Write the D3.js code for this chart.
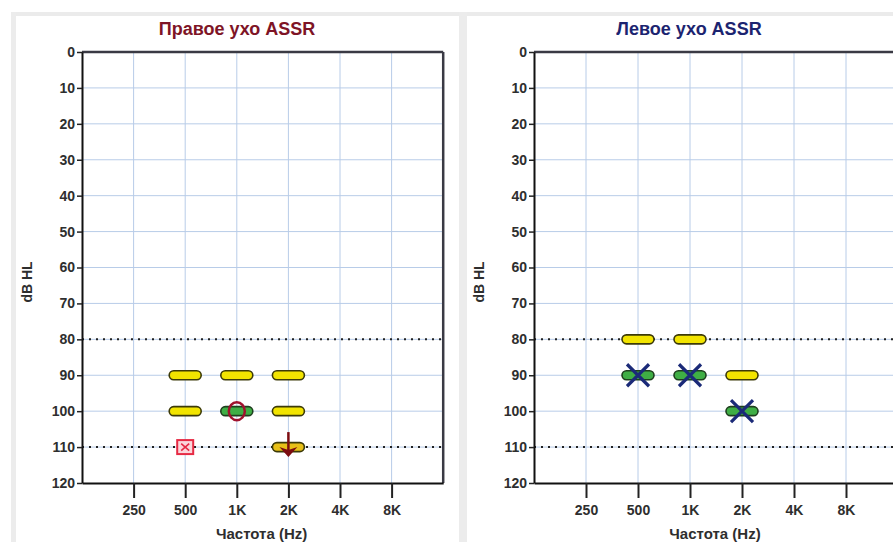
<!DOCTYPE html>
<html>
<head>
<meta charset="utf-8">
<script src="https://cdn.jsdelivr.net/npm/d3@7"></script>
<style>
  html, body { margin: 0; padding: 0; background: #ffffff; }
  svg { display: block; font-family: Arial, "Liberation Sans", sans-serif; }
</style>
</head>
<body>
<svg id="chart" width="893" height="542"></svg>
<script>
// ---------- data ----------
const freqLabels = ["250", "500", "1K", "2K", "4K", "8K"];
const dbTicks = [0, 10, 20, 30, 40, 50, 60, 70, 80, 90, 100, 110, 120];
const referenceLevels = [80, 110];

const panelTitles = ["Правое ухо ASSR", "Левое ухо ASSR"];
const xAxisTitle = "Частота (Hz)";
const yAxisTitle = "dB HL";

// Right ear (left panel)
const rightYellow = [
  { f: "500", db: 90 }, { f: "1K", db: 90 }, { f: "2K", db: 90 },
  { f: "500", db: 100 }, { f: "2K", db: 100 }
];
const rightYellowNoResp = [{ f: "2K", db: 110 }];
const rightGreen = [{ f: "1K", db: 100 }];
const rightCircle = [{ f: "1K", db: 100 }];
const rightSquare = [{ f: "500", db: 110 }];
const rightArrow = [{ f: "2K", db: 110 }];

// Left ear (right panel)
const leftYellow = [{ f: "500", db: 80 }, { f: "1K", db: 80 }, { f: "2K", db: 90 }];
const leftGreen = [{ f: "500", db: 90 }, { f: "1K", db: 90 }, { f: "2K", db: 100 }];
const leftCross = [{ f: "500", db: 90 }, { f: "1K", db: 90 }, { f: "2K", db: 100 }];

// ---------- drawing ----------
const svg = d3.select("#chart");

// frame strips
const frame = svg.append("g");
frame.append("rect").attr("x", 11).attr("y", 12).attr("width", 882).attr("height", 4).attr("fill", "#ebebeb");
frame.append("rect").attr("x", 11).attr("y", 12).attr("width", 5).attr("height", 530).attr("fill", "#ececec");
frame.append("rect").attr("x", 459).attr("y", 12).attr("width", 8).attr("height", 530).attr("fill", "#ececec");

const panels = [
  { offset: 0, titleColor: "#7e1426", step: 51.6,
    yellow: rightYellow, yellowNR: rightYellowNoResp, green: rightGreen,
    circle: rightCircle, square: rightSquare, arrow: rightArrow, cross: [] },
  { offset: 452, titleColor: "#1c2470", step: 52,
    yellow: leftYellow, yellowNR: [], green: leftGreen,
    circle: [], square: [], arrow: [], cross: leftCross }
];

panels.forEach((p, i) => {
  const left = 82 + p.offset, top = 52, bottom = 483;
  const plotW = p.step * 7;
  const g = svg.append("g");

  const x = d3.scalePoint().domain(["", ...freqLabels, " "]).range([left, left + plotW]);
  const y = d3.scaleLinear().domain([0, 120]).range([top, bottom]);

  // title
  g.append("text")
    .attr("x", 237 + p.offset).attr("y", 35)
    .attr("text-anchor", "middle")
    .attr("font-size", 18).attr("font-weight", "bold")
    .attr("fill", p.titleColor)
    .text(panelTitles[i]);

  // grid
  g.append("g").selectAll("line").data(dbTicks.slice(1, -1)).join("line")
    .attr("x1", left).attr("x2", left + plotW)
    .attr("y1", d => y(d)).attr("y2", d => y(d))
    .attr("stroke", "#b8cce8").attr("stroke-width", 1);
  g.append("g").selectAll("line").data(freqLabels).join("line")
    .attr("x1", d => x(d)).attr("x2", d => x(d))
    .attr("y1", top).attr("y2", bottom)
    .attr("stroke", "#b8cce8").attr("stroke-width", 1);

  // reference dotted lines
  g.append("g").selectAll("line").data(referenceLevels).join("line")
    .attr("x1", left).attr("x2", left + plotW)
    .attr("y1", d => y(d)).attr("y2", d => y(d))
    .attr("stroke", "#222").attr("stroke-width", 2)
    .attr("stroke-dasharray", "2,5");

  // frame (top/right)
  g.append("line").attr("x1", left).attr("x2", left + plotW).attr("y1", top).attr("y2", top)
    .attr("stroke", "#3a3a44").attr("stroke-width", 2.5);
  g.append("line").attr("x1", left + plotW).attr("x2", left + plotW).attr("y1", top).attr("y2", bottom)
    .attr("stroke", "#3a3a44").attr("stroke-width", 2.5);

  // y axis
  const yAx = g.append("g").attr("transform", `translate(${left},0)`)
    .call(d3.axisLeft(y).tickValues(dbTicks).tickSize(5).tickPadding(2).tickSizeOuter(0));
  yAx.select(".domain").attr("stroke", "#111").attr("stroke-width", 2);
  yAx.selectAll(".tick line").attr("stroke", "#222").attr("stroke-width", 1.5);
  yAx.selectAll("text").attr("font-size", 14).attr("font-weight", "bold")
    .attr("fill", "#2e2e2e").attr("font-family", "Arial, 'Liberation Sans', sans-serif");

  // x axis
  const xAx = g.append("g").attr("transform", `translate(0,${bottom})`)
    .call(d3.axisBottom(x).tickValues(freqLabels).tickSize(15).tickPadding(7).tickSizeOuter(0));
  xAx.select(".domain").attr("stroke", "#111").attr("stroke-width", 2);
  xAx.selectAll(".tick line").attr("stroke", "#222").attr("stroke-width", 2);
  xAx.selectAll("text").attr("font-size", 14).attr("font-weight", "bold")
    .attr("fill", "#2e2e2e").attr("font-family", "Arial, 'Liberation Sans', sans-serif");

  // axis titles
  g.append("text").attr("x", left + 3.5 * p.step - 1).attr("y", 539)
    .attr("text-anchor", "middle").attr("font-size", 15).attr("fill", "#2e2e2e")
    .attr("font-weight", "bold")
    .text(xAxisTitle);
  g.append("text")
    .attr("transform", `translate(${32 + p.offset},282) rotate(-90)`)
    .attr("text-anchor", "middle").attr("font-size", 14).attr("font-weight", "bold")
    .attr("fill", "#2e2e2e")
    .text(yAxisTitle);

  // markers
  const bw = 32, bh = 9;
  const bar = (data, fill, stroke) => g.append("g").selectAll("rect").data(data).join("rect")
    .attr("x", d => x(d.f) - bw / 2).attr("y", d => y(d.db) - bh / 2)
    .attr("width", bw).attr("height", bh).attr("rx", 4.5)
    .attr("fill", fill).attr("stroke", stroke).attr("stroke-width", 1.6);

  bar(p.yellow, "#f2e400", "#3c3a08");
  bar(p.yellowNR, "#e8c018", "#3c3a08");
  bar(p.green, "#3fae45", "#1e3f1e");

  // circle (O)
  g.append("g").selectAll("ellipse").data(p.circle).join("ellipse")
    .attr("cx", d => x(d.f)).attr("cy", d => y(d.db))
    .attr("rx", 8).attr("ry", 9)
    .attr("fill", "none").attr("stroke", "#a0122e").attr("stroke-width", 2.5);

  // square with x
  const sq = g.append("g").selectAll("g").data(p.square).join("g")
    .attr("transform", d => `translate(${x(d.f)},${y(d.db)})`);
  sq.append("rect").attr("x", -8).attr("y", -7).attr("width", 16).attr("height", 14)
    .attr("fill", "#fbd6dc").attr("stroke", "#e62a44").attr("stroke-width", 2);
  sq.append("path").attr("d", "M-4,-3.5L4,3.5M4,-3.5L-4,3.5")
    .attr("stroke", "#e62a44").attr("stroke-width", 1.6).attr("fill", "none");

  // no-response arrow
  const ar = g.append("g").selectAll("g").data(p.arrow).join("g")
    .attr("transform", d => `translate(${x(d.f)},${y(d.db)})`);
  ar.append("line").attr("x1", 0).attr("x2", 0).attr("y1", -15).attr("y2", 4)
    .attr("stroke", "#7c0c10").attr("stroke-width", 2.5);
  ar.append("path").attr("d", "M-9,0L0,10L9,0L0,3Z").attr("fill", "#7c0c10");

  // X crosses
  g.append("g").selectAll("path").data(p.cross).join("path")
    .attr("transform", d => `translate(${x(d.f)},${y(d.db)})`)
    .attr("d", "M-11,-11L11,11M11,-11L-11,11")
    .attr("stroke", "#1b2a78").attr("stroke-width", 3.2).attr("fill", "none");
});
</script>
</body>
</html>
